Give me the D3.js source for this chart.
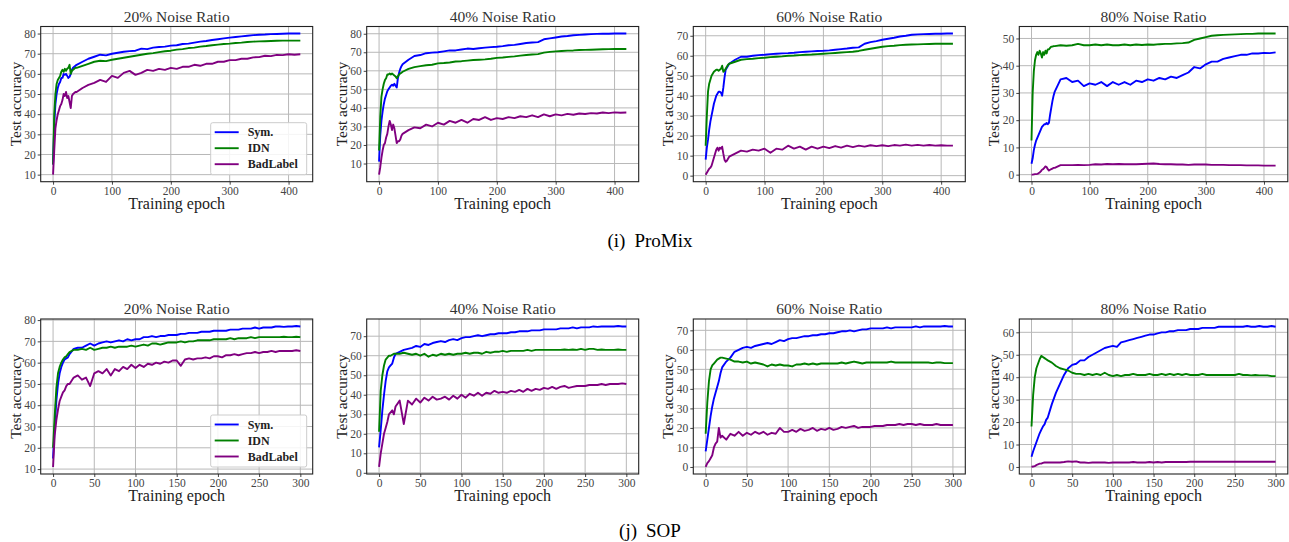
<!DOCTYPE html>
<html>
<head>
<meta charset="utf-8">
<script src="https://cdn.jsdelivr.net/npm/d3@7"></script>
<style>
  body { margin: 0; background: #fff; }
  svg { display: block; }
  text { font-family: "Liberation Serif", "Times New Roman", serif; }
</style>
</head>
<body>
<svg id="chart" width="1289" height="542"></svg>
<script>
// data

const pmEpochs = [0,2,4,6,8,10,12,14,16,18,20,22,24,26,28,30,32,34,36,38,40,
  50,60,70,80,90,100,110,120,130,140,150,160,170,180,190,200,210,220,230,240,
  250,260,270,280,290,300,310,320,330,340,350,360,370,380,390,400,410,420];

const sopEpochs = [0,2,4,6,8,10,12,14,16,18,20,
  25,30,35,40,45,50,55,60,65,70,75,80,85,90,95,100,105,110,115,120,125,130,135,140,
  145,150,155,160,165,170,175,180,185,190,195,200,205,210,215,220,225,230,235,240,
  245,250,255,260,265,270,275,280,285,290,295,300];

const seriesNames = ["Sym.", "IDN", "BadLabel"];
const noiseTitles = ["20% Noise Ratio", "40% Noise Ratio", "60% Noise Ratio", "80% Noise Ratio"];
const captionTags = ["(i)", "(j)"];
const captionNames = ["ProMix", "SOP"];

const pmXTicks = [0, 100, 200, 300, 400];
const sopXTicks = [0, 50, 100, 150, 200, 250, 300];
const pmYTicks = [
  [10, 20, 30, 40, 50, 60, 70, 80],
  [10, 20, 30, 40, 50, 60, 70, 80],
  [0, 10, 20, 30, 40, 50, 60, 70],
  [0, 10, 20, 30, 40, 50]
];
const sopYTicks = [
  [10, 20, 30, 40, 50, 60, 70, 80],
  [0, 10, 20, 30, 40, 50, 60, 70],
  [0, 10, 20, 30, 40, 50, 60, 70],
  [0, 10, 20, 30, 40, 50, 60]
];

// ProMix, 20%
const pm20Sym = [15,35,45,50,53,55,56,58,58,60,59.5,60,59,58,58.5,60,62,63,63.5,64,64.5,
  66,67.5,68.5,69.5,69.2,70,70.5,71,71.3,71.5,72.5,72.3,73,73.3,73.5,74,74.2,74.8,75,75.5,
  76,76.3,76.8,77.2,77.6,78,78.3,78.6,78.9,79.2,79.4,79.5,79.7,79.8,79.9,80,80,80];
const pm20Idn = [15,40,50,55,57,58,59,61,62,61,62.5,61.5,62.5,63,64.5,60,61.5,62,62.5,63,63,
  64,65,66,66.5,66.3,67,67.5,68,68.5,69,69.5,70,70.3,70.8,71.2,71.5,72,72.3,72.8,73,
  73.5,73.8,74.2,74.5,74.8,75,75.3,75.5,75.8,76,76.1,76.2,76.3,76.4,76.5,76.5,76.5,76.5];
const pm20Bad = [10,22,33,37,40,42,44,45,47,50,49,51,48,49,46,43,49,50,50.5,51,51,
  53,54.5,55.5,57,56,59,58,60.5,61.5,59.5,60.5,62,61.5,62.5,62,63,62.5,63.5,63.5,64.5,
  64,65,65,66,66,66.8,66.8,67.5,67.5,68.2,68.3,69,68.8,69.4,69.3,69.7,69.5,69.7];

// ProMix, 40%
const pm40Sym = [11,25,33,38,42,45,47,49,50,51,52,52.5,52,53,52,51,56,59,61,62.5,63.5,
  66,68,68.5,69.5,69.8,70,70.5,71,71,71.5,72,71.8,72.2,72.5,72.8,73,73.3,73.8,74,74.5,
  75,75.3,75.5,77,77.5,78,78.5,78.8,79.2,79.4,79.6,79.8,79.9,80,80,80.1,80.1,80.1];
const pm40Idn = [17,35,46,50,53,55,56,58,58,58.5,58,58.5,58,57.5,57,56,57,58,58.5,59,59.5,
  61,62,62.5,63,63.3,64,64.2,64.5,65,65.2,65.5,65.8,66,66.2,66.5,67,67.2,67.5,67.8,68.2,
  68.5,68.8,69,69.8,70.2,70.5,70.7,70.9,71,71.2,71.3,71.4,71.5,71.6,71.7,71.8,71.8,71.8];
const pm40Bad = [4,8,13,17,20,21,24,26,30,33,31,28,31,29,25,21,22,22,23,25,26,
  28,29.5,29,31,30,32,31,33,32,33.5,32,34,33.5,35,33.5,34.5,34,35,34.5,35.5,
  35,36,35,36.5,35.5,36.5,36,36.8,36.3,37,36.7,37.2,37,37.5,37.2,37.6,37.4,37.5];

// ProMix, 60%
const pm60Sym = [8,14,18,23,27,30,33,36,38,40,41,42,42,41.5,40,44,49,53,54,55,56,
  58,59.5,59.5,60,60.3,60.5,60.8,61,61.2,61.3,61.5,61.8,62,62.2,62.4,62.5,62.7,63,63.3,63.6,
  64,64.2,66,66.8,67.3,68,68.5,69,69.6,70,70.5,70.7,70.8,70.9,71,71,71.1,71.1];
const pm60Idn = [15,30,42,46,48,50,51,52,52.5,53,53,52.5,53,53.5,55,52,52.5,53.5,54.5,55.5,56,
  57,58,58.3,58.5,58.8,59,59.3,59.5,59.7,60,60.1,60.3,60.5,60.6,60.8,61,61.2,61.4,61.6,61.8,
  62,62.4,63,63.5,64,64.5,64.8,65,65.3,65.5,65.6,65.7,65.8,65.9,66,66,66,66];
const pm60Bad = [0.5,1.5,2.5,3.5,4,5,7,9,11,13,14,12.5,14,13.5,14.5,11,8,7,7.5,8.5,9.5,
  11,12.5,12,13,12.5,13.5,11.5,13.5,13,15,13.5,14.5,13,14.5,13.5,14.5,13.8,14.8,14,15,
  14.3,15,14.5,15.2,14.8,15.2,14.8,15.3,15,15.5,15,15.4,15,15.3,15,15.2,15,15];

// ProMix, 80%
const pm80Sym = [4,6,9,11,12.5,13.5,14.5,15.5,16.5,17.5,18,18.5,18.5,19,18.5,19,22,24.5,27,29,30.5,
  35,35.5,34,34.5,32.5,33.5,33,34,32.5,34,33,34,33,34.5,34,35,34.5,35.5,35,36,
  35.5,36.5,37.5,39.5,39,40.5,41.5,41.5,42.5,43,43.5,44,44,44.5,44.5,44.7,44.6,44.9];
const pm80Idn = [12.5,30,38,42,44,45,44,45.5,44.5,43,45,44,45.5,44.5,46,46,46.5,47,47,47.2,47.2,
  47.5,47.3,47.5,48,47.5,47.5,47.8,47.5,47.8,47.5,47.5,47.8,47.5,47.8,47.6,47.8,47.7,47.9,48,48,
  48.2,48.3,48.5,49.5,50,50.5,51,51.2,51.3,51.4,51.5,51.6,51.7,51.7,51.8,51.8,51.8,51.8];
const pm80Bad = [0,0,0.1,0.2,0.2,0.3,0.5,0.8,1.2,1.8,2,2.5,3,2.8,2,1.5,1.8,2,2.2,2.5,2.5,
  3.5,3.5,3.5,3.6,3.5,3.6,3.8,3.7,3.9,3.8,3.9,3.8,3.8,3.8,3.9,4,4.1,3.9,3.8,3.8,
  3.7,3.7,3.6,3.7,3.7,3.7,3.6,3.6,3.6,3.5,3.5,3.5,3.4,3.4,3.4,3.3,3.3,3.3];

// SOP, 20%
const sop20Sym = [15,30,42,50,55,58,60,61.5,62,62.5,64,
  66.5,67,67,68,69,68,69,69.5,70,69.5,70,70.5,70,71,70.5,71,71,72,72,72.5,72,72.5,72.5,73,
  73,73,73.5,73.5,74,74,74,74.5,74.5,74.5,75,75,75,75,75.5,75.5,75.5,76,76,76,
  76.5,76,76.5,76.5,76.5,77,77,76.8,77,77,77.2,77];
const sop20Idn = [20,35,48,55,58,60,61.5,62.5,63,64,65,
  66,66,66.5,66,67,66,66.5,67,67,67.5,67,67.5,67.5,67.5,68,67.5,68,68.5,68,69,69,68.5,69,69.5,
  69.5,69.5,70,69.5,70,70,70.5,70.5,70.5,70.5,71,71,71,71,71.5,71,71.5,71.5,71.5,72,
  71.5,72,72,72,72,72,72,72.2,72,72,72.2,72];
const sop20Bad = [11,26,33,38,42,44,46,47,49,50,50,
  53,54,52,53,49,55,56,55,57,54,57,56,58,57,59,57.5,59,58,59.5,59,60,59.5,60.5,60,
  61,61,58.5,61.5,62,61.5,62,62,62.5,62,63,63,62.5,63.5,63.5,64,63.5,64,64.5,64.5,
  65,64.5,65,65,65.5,65,65.5,65.5,65.5,65.5,65.8,65.5];

// SOP, 40%
const sop40Sym = [13,22,32,40,47,52,54,55,56,59,61,
  62,63,63.5,64,65,64.5,66,65.5,66.5,67,67.5,67,68,68.5,68,69,69.5,69.5,70,70.5,70,70.5,71,71,
  71.5,71.5,71.5,72,72,72.5,72.5,72.5,73,73,73,73.5,73.5,73.5,73.5,74,74,74,74.5,74,
  74.5,74.5,74.5,75,74.8,75,75,75,75,75.2,75,75];
const sop40Idn = [21,42,50,55,58,59,60,60,60.5,61,61,
  61,61.5,61,60.5,61,60,61,59.5,60.5,60,61,60.5,61,60.5,61,61,61.5,61,61.5,61.5,61,62,61.5,62,
  62,62.5,62,62.5,62.5,62.5,62.5,63,62.5,63,63,63,63,63,63,63,63.2,63,63.2,63,
  63.5,63,63.5,63.5,63,63.2,63,63,63,63.2,63,63];
const sop40Bad = [3,10,15,20,23,26,30,31,32,30,34,
  37,25,37,35,38,36,38.5,37,39,37.5,38,39,37.5,39.5,38,40,38.5,40.5,39.5,41,39.5,41,40.5,42,
  41,41.5,41,42,41.5,42.5,41.5,43,42,43,42.5,43.5,43,44,43,44,44.5,43.5,44,44.5,
  44.5,44.5,45,45,45,45.5,45,45.5,45.5,45.5,45.8,45.5];

// SOP, 60%
const sop60Sym = [8,14,20,26,31,35,38,41,44,48,51,
  54,56,59,60,61,61.5,61,62,62.5,63,63.5,63,64,65,64.5,65.5,66,66,66.5,67,67,67.5,67.5,68,
  68,68.5,68.5,69,69.5,69.5,70,69.5,70,70.5,70.5,71,71,71,71,71.5,71,71.5,71.5,71.5,
  71.5,71.5,72,71.5,72,72,72,72,72,72.2,72,72];
const sop60Idn = [17,33,44,50,52,53,54,55,55.5,56,56,
  55.5,55,54,54,53.5,54,53,53.5,53,52.5,51.5,52.5,52,52.5,52,52,51.5,52.5,52.5,53,52.5,53,52.5,53,
  53,53,53,53,53.5,53,53.5,54,53.5,53,53.5,53.5,53.5,53.5,53.5,53.5,54,53.5,53.5,53.5,
  53.5,53.5,53.5,53.5,53.5,53.5,53.2,53.5,53.5,53.2,53.2,53.2];
const sop60Bad = [0,2,3,4.5,6,10,12,13,20,15,16,
  14,17,16,18,16,17.5,16.5,18,17,18,16.5,17.5,17,20,18,18,19,18,19.5,18.5,19,20,18.5,19.5,
  19,20,19,19.5,20.5,20,20.5,21,20,20.5,20.5,20.5,21,21,21,21.5,21.5,21.5,22,21.5,
  22,22,21.5,22,21.5,21.5,21.5,22,21.5,21.5,21.5,21.5];

// SOP, 80%
const sop80Sym = [4.5,7,9,11,13,15,16.5,18,19,21,22,
  28,33,37,41,44,45.5,46,47.5,47.5,49,50,51,52,53,53.5,54,53.5,55.5,56,56.5,57,57.5,58,58.5,
  59,59,59.5,60,60,60.5,60.5,61,61,61,61.5,61.5,61.5,62,62,62,62,62.5,62.5,62.5,
  62.5,62.5,62.5,62.5,62.8,62.5,62.5,62.8,62.5,62.5,62.8,62.5];
const sop80Idn = [18,32,40,44,46,48,49.5,49,48.5,48,47.5,
  46.5,45,44,43.5,43,42,41.5,41.5,41,41.5,41,41.5,41,42,41,40.5,41,40.5,41,41,41.5,41,41,41,
  41.5,41,41,41.5,41,41.5,41,41.5,41,41.5,41,41,41,41.5,41,41,41,41,41,41,
  41,41,41.5,41,41,40.8,41,40.8,40.8,40.8,40.5,40.5];
const sop80Bad = [0,0.2,0.4,0.8,1.2,1.5,1.5,1.8,2,2,2,
  2,2,2,2.2,2.5,2.3,2.5,2,2,1.8,2,2,2,2,1.8,2,2,2,2,2,2.2,2,2,2,
  2.2,2,2.2,2,2.2,2.2,2.2,2.2,2.2,2.2,2.3,2.3,2.3,2.3,2.3,2.3,2.3,2.3,2.3,2.3,
  2.3,2.3,2.3,2.3,2.3,2.3,2.3,2.3,2.3,2.3,2.3,2.3];

// layout + style
const lineColors = ["#0000ff", "#008000", "#800080"];
const colLeft = [40.7, 366.7, 693.3, 1019.3];
const colWidth = [272, 272, 272, 268.5];
const rowTop = [26.5, 319];
const rowHeight = [155.2, 155];
const captionY = [247, 537];

const panels = [
  { row: 0, col: 0, epochs: pmEpochs, xTicks: pmXTicks, yTicks: pmYTicks[0], series: [pm20Sym, pm20Idn, pm20Bad], legend: true },
  { row: 0, col: 1, epochs: pmEpochs, xTicks: pmXTicks, yTicks: pmYTicks[1], series: [pm40Sym, pm40Idn, pm40Bad] },
  { row: 0, col: 2, epochs: pmEpochs, xTicks: pmXTicks, yTicks: pmYTicks[2], series: [pm60Sym, pm60Idn, pm60Bad] },
  { row: 0, col: 3, epochs: pmEpochs, xTicks: pmXTicks, yTicks: pmYTicks[3], series: [pm80Sym, pm80Idn, pm80Bad] },
  { row: 1, col: 0, epochs: sopEpochs, xTicks: sopXTicks, yTicks: sopYTicks[0], series: [sop20Sym, sop20Idn, sop20Bad], legend: true },
  { row: 1, col: 1, epochs: sopEpochs, xTicks: sopXTicks, yTicks: sopYTicks[1], series: [sop40Sym, sop40Idn, sop40Bad] },
  { row: 1, col: 2, epochs: sopEpochs, xTicks: sopXTicks, yTicks: sopYTicks[2], series: [sop60Sym, sop60Idn, sop60Bad] },
  { row: 1, col: 3, epochs: sopEpochs, xTicks: sopXTicks, yTicks: sopYTicks[3], series: [sop80Sym, sop80Idn, sop80Bad] }
];

const svg = d3.select("#chart");
svg.append("rect").attr("width", 1289).attr("height", 542).attr("fill", "#fff");

panels.forEach((p) => {
  const x0 = colLeft[p.col];
  const y0 = rowTop[p.row];
  const w = colWidth[p.col];
  const h = rowHeight[p.row];

  // matplotlib style 5% margins
  const xMax = d3.max(p.epochs);
  const allVals = p.series.flat();
  const yMin = d3.min(allVals), yMax = d3.max(allVals);
  const yPad = (yMax - yMin) * 0.05;

  const x = d3.scaleLinear().domain([-xMax * 0.05, xMax * 1.05]).range([0, w]);
  const y = d3.scaleLinear().domain([yMin - yPad, yMax + yPad]).range([h, 0]);

  const g = svg.append("g").attr("transform", `translate(${x0},${y0})`);

  // grid
  g.append("g")
    .selectAll("line")
    .data(p.xTicks)
    .join("line")
    .attr("x1", (d) => x(d)).attr("x2", (d) => x(d))
    .attr("y1", 0).attr("y2", h)
    .attr("stroke", "#b8b8b8").attr("stroke-width", 1);
  g.append("g")
    .selectAll("line")
    .data(p.yTicks)
    .join("line")
    .attr("x1", 0).attr("x2", w)
    .attr("y1", (d) => y(d)).attr("y2", (d) => y(d))
    .attr("stroke", "#b8b8b8").attr("stroke-width", 1);

  // lines
  const line = d3.line()
    .x((d, i) => x(p.epochs[i]))
    .y((d) => y(d));
  p.series.forEach((vals, i) => {
    g.append("path")
      .datum(vals)
      .attr("fill", "none")
      .attr("stroke", lineColors[i])
      .attr("stroke-width", 1.9)
      .attr("stroke-linejoin", "round")
      .attr("d", line);
  });

  // axes
  const xAxis = g.append("g")
    .attr("transform", `translate(0,${h})`)
    .call(d3.axisBottom(x).tickValues(p.xTicks).tickSize(3).tickPadding(2).tickSizeOuter(0));
  const yAxis = g.append("g")
    .call(d3.axisLeft(y).tickValues(p.yTicks).tickSize(3).tickPadding(2).tickSizeOuter(0));
  [xAxis, yAxis].forEach((a) => {
    a.select(".domain").remove();
    a.selectAll("line").attr("stroke", "#444");
    a.selectAll("text")
      .attr("fill", "#444")
      .style("font-family", "'Liberation Serif', serif")
      .style("font-size", "11.5px");
  });

  // frame
  g.append("rect")
    .attr("width", w).attr("height", h)
    .attr("fill", "none").attr("stroke", "#222").attr("stroke-width", 1.1);

  // title + labels
  g.append("text")
    .attr("x", w / 2).attr("y", -5)
    .attr("text-anchor", "middle")
    .attr("fill", "#333")
    .style("font-size", "15.5px")
    .text(noiseTitles[p.col]);
  g.append("text")
    .attr("x", w / 2).attr("y", h + 27)
    .attr("text-anchor", "middle")
    .attr("fill", "#222")
    .style("font-size", "16px")
    .text("Training epoch");
  g.append("text")
    .attr("transform", `translate(-20,${h / 2}) rotate(-90)`)
    .attr("text-anchor", "middle")
    .attr("fill", "#222")
    .style("font-size", "15.5px")
    .text("Test accuracy");

  // legend
  if (p.legend) {
    const lg = g.append("g").attr("transform", `translate(${w - 102},${h - 59})`);
    lg.append("rect")
      .attr("width", 96).attr("height", 52).attr("rx", 2)
      .attr("fill", "#fff").attr("fill-opacity", 0.85)
      .attr("stroke", "#ccc").attr("stroke-width", 1);
    seriesNames.forEach((name, i) => {
      const ly = 9.5 + i * 16;
      lg.append("line")
        .attr("x1", 4).attr("x2", 28)
        .attr("y1", ly).attr("y2", ly)
        .attr("stroke", lineColors[i]).attr("stroke-width", 1.9);
      lg.append("text")
        .attr("x", 37).attr("y", ly + 4)
        .attr("fill", "#222")
        .style("font-size", "12px")
        .style("font-weight", "bold")
        .text(name);
    });
  }
});

// group captions
captionTags.forEach((tag, i) => {
  const t = svg.append("text")
    .attr("x", 650).attr("y", captionY[i])
    .attr("text-anchor", "middle")
    .attr("fill", "#000")
    .style("font-size", "19px");
  t.append("tspan").text(tag);
  t.append("tspan").attr("dx", 9).text(captionNames[i]);
});
</script>
</body>
</html>
